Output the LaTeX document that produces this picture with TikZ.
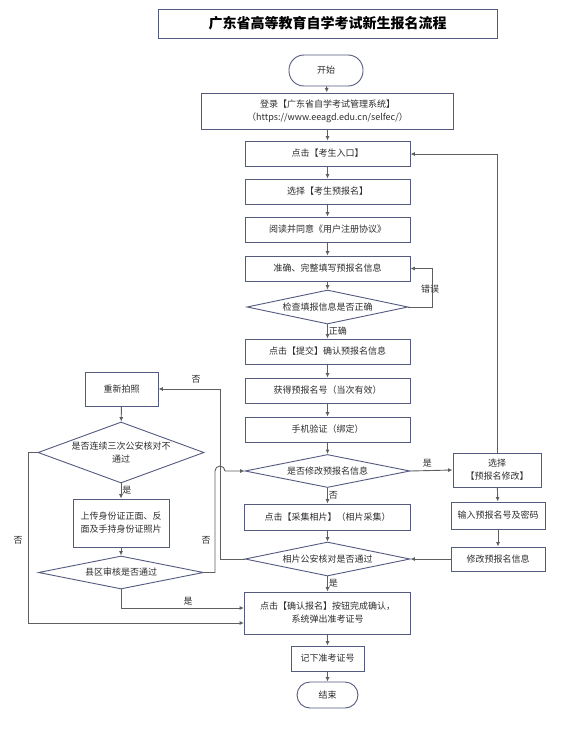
\documentclass[tikz,border=0pt]{standalone}
\usepackage{fontspec}
\setmainfont{Noto Sans CJK SC}
\setsansfont{Noto Sans CJK SC}
\usetikzlibrary{shapes.geometric,arrows.meta}
\definecolor{bcol}{RGB}{84,90,128}
\definecolor{lcol}{RGB}{95,95,95}
\definecolor{tcol}{RGB}{45,45,45}
\begin{document}
\begin{tikzpicture}[x=1pt,y=-1pt,
  box/.style={draw=bcol, line width=0.9pt, rectangle, inner sep=0pt, text=tcol,
    font=\fontsize{9}{13}\selectfont, align=center},
  dia/.style={diamond, draw=bcol, line width=0.9pt, inner sep=0pt},
  dtext/.style={text=tcol, font=\fontsize{9}{13}\selectfont, align=center, inner sep=0pt},
  arr/.style={draw=lcol, line width=0.9pt, -{Latex[length=4.5pt,width=4pt]}},
  ln/.style={draw=lcol, line width=0.9pt},
  lab/.style={text=tcol, font=\fontsize{9}{11}\selectfont, inner sep=1pt}]
\useasboundingbox[fill=white] (0,0) rectangle (569,754);

% title
\node[box, minimum width=339pt, minimum height=29pt, text=black,
  font=\fontsize{14}{17}\selectfont\bfseries] (title) at (327.5,23.5) {广东省高等教育自学考试新生报名流程};

% main column
\node[box, rounded corners=15pt, minimum width=74pt, minimum height=31pt] (start) at (326,70.5) {开始};
\node[box, minimum width=252pt, minimum height=36pt] (login) at (327.5,111) {登录【广东省自学考试管理系统】\\（https://www.eeagd.edu.cn/selfec/）};
\node[box, minimum width=165pt, minimum height=25pt] (entry) at (327.5,153.5) {点击【考生入口】};
\node[box, minimum width=165pt, minimum height=25pt] (choose) at (327.5,191.5) {选择【考生预报名】};
\node[box, minimum width=165pt, minimum height=25pt] (read) at (327.5,229.5) {阅读并同意《用户注册协议》};
\node[box, minimum width=165pt, minimum height=25pt] (fill) at (327.5,268.5) {准确、完整填写预报名信息};
\node[dia, minimum width=161pt, minimum height=34pt, label={[dtext]center:检查填报信息是否正确}] (check) at (327.5,307) {};
\node[box, minimum width=165pt, minimum height=25pt] (submit) at (327.5,351.5) {点击【提交】确认预报名信息};
\node[box, minimum width=165pt, minimum height=25pt] (getnum) at (327.5,390.5) {获得预报名号（当次有效）};
\node[box, minimum width=165pt, minimum height=25pt] (phone) at (327.5,429.5) {手机验证（绑定）};
\node[dia, minimum width=165pt, minimum height=33pt, label={[dtext]center:是否修改预报名信息}] (modify) at (327.5,471) {};
\node[box, minimum width=166pt, minimum height=26pt] (photo) at (327.5,517) {点击【采集相片】（相片采集）};
\node[dia, minimum width=165pt, minimum height=34pt, label={[dtext]center:相片公安核对是否通过}] (photodia) at (327.5,559) {};
\node[box, minimum width=166pt, minimum height=42pt] (confirm) at (327.5,613) {点击【确认报名】按钮完成确认，\\系统弹出准考证号};
\node[box, minimum width=73pt, minimum height=25pt] (record) at (327.5,658.5) {记下准考证号};
\node[box, rounded corners=13pt, minimum width=61pt, minimum height=26pt] (end) at (327.5,695) {结束};

% right column
\node[box, minimum width=88pt, minimum height=34pt] (choosemod) at (497,470) {选择\\【预报名修改】};
\node[box, minimum width=94pt, minimum height=27pt] (input) at (498,515.5) {输入预报名号及密码};
\node[box, minimum width=94pt, minimum height=24pt] (modinfo) at (498,559) {修改预报名信息};

% left column
\node[box, minimum width=73pt, minimum height=34pt] (retake) at (121.5,389) {重新拍照};
\node[dia, minimum width=166pt, minimum height=61pt, label={[dtext]center:是否连续三次公安核对不\\通过}] (three) at (121,452.5) {};
\node[box, minimum width=96pt, minimum height=48pt] (upload) at (121,523) {上传身份证正面、反\\面及手持身份证照片};
\node[dia, minimum width=165pt, minimum height=33pt, label={[dtext]center:县区审核是否通过}] (county) at (121,572.5) {};

% main arrows
\draw[arr] (start) -- (login);
\draw[arr] (login) -- (entry);
\draw[arr] (entry) -- (choose);
\draw[arr] (choose) -- (read);
\draw[arr] (read) -- (fill);
\draw[arr] (fill) -- (check);
\draw[arr] (check) -- node[lab, right, pos=0.45]{正确} (submit);
\draw[arr] (submit) -- (getnum);
\draw[arr] (getnum) -- (phone);
\draw[arr] (phone) -- (modify);
\draw[arr] (modify) -- node[lab, right, pos=0.45]{否} (photo);
\draw[arr] (photo) -- (photodia);
\draw[arr] (photodia) -- node[lab, right, pos=0.45]{是} (confirm);
\draw[arr] (confirm) -- (record);
\draw[arr] (record) -- (end);

% error loop
\coordinate (e1) at (432,307);
\coordinate (e2) at (432,268.5);
\draw[arr] (check.east) -- (e1) -- (e2) -- (fill.east);
\node[lab] (errlab) at (430,289) {错误};

% modify branch
\draw[arr] (modify.east) -- node[lab, above, pos=0.4, yshift=2pt]{是} (choosemod.west);
\coordinate (m1) at (497,154);
\draw[arr] (choosemod.north) -- (m1) -- (entry.east |- m1);
\draw[arr] (choosemod) -- (input);
\draw[arr] (input) -- (modinfo);
\draw[arr] (modinfo.west) -- (photodia.east);

% photo fail -> retake
\coordinate (p1) at (220,559);
\coordinate (p2) at (220,389);
\draw[arr] (photodia.west) -- (p1) -- (p2) -- (retake.east);
\node[lab] (nolab1) at (196,379) {否};

% left column arrows
\draw[arr] (retake) -- (three);
\draw[arr] (three) -- node[lab, right, pos=0.45]{是} (upload);
\draw[arr] (upload) -- (county);

% county fail -> modify (with hop)
\coordinate (c1) at (215,572.5);
\coordinate (c2) at (215,471);
\draw[arr] (county.east) -- (c1) -- (c2) arc[start angle=180, end angle=0, radius=5pt] -- (modify.west);
\node[lab] (nolab2) at (206,540) {否};

% county pass -> confirm
\coordinate (k1) at (121,608);
\draw[arr] (county.south) -- (k1) -- (confirm.west |- k1);
\node[lab] (yeslab) at (188,601) {是};

% three-times fail -> confirm
\coordinate (t1) at (28,452.5);
\coordinate (t2) at (28,623);
\draw[arr] (three.west) -- (t1) -- (t2) -- (confirm.west |- t2);
\node[lab] (nolab3) at (18,540) {否};
\end{tikzpicture}
\end{document}
